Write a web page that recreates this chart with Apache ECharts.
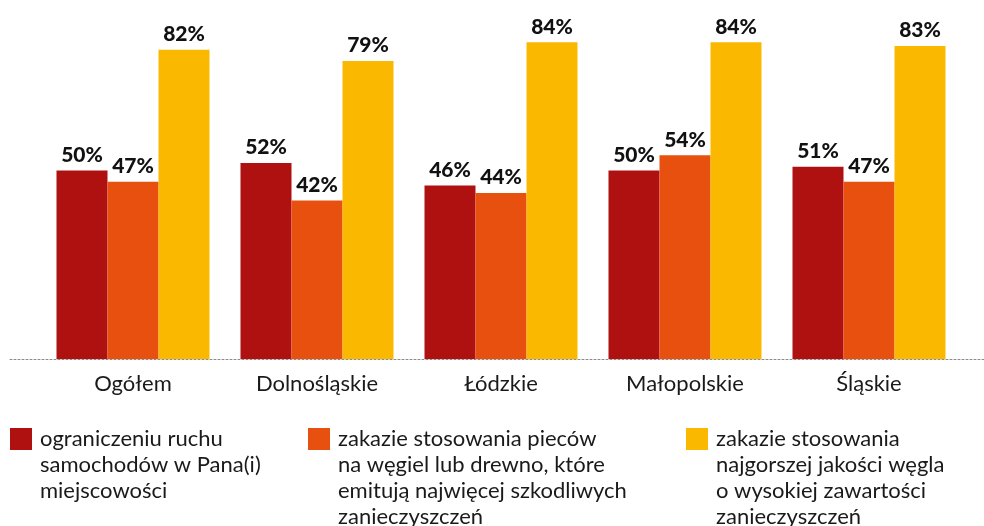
<!DOCTYPE html>
<html>
<head>
<meta charset="utf-8">
<script src="https://cdn.jsdelivr.net/npm/echarts@6/dist/echarts.min.js"></script>
<style>
html,body{margin:0;padding:0;background:#fff;}
#c{width:984px;height:526px;}
</style>
</head>
<body>
<div id="c"></div>
<script>
const categories = ['Ogółem', 'Dolnośląskie', 'Łódzkie', 'Małopolskie', 'Śląskie'];
const seriesNames = ['ruch', 'piece', 'wegiel'];
const legendTexts = [
  'ograniczeniu ruchu\nsamochodów w Pana(i)\nmiejscowości',
  'zakazie stosowania pieców\nna węgiel lub drewno, które\nemitują najwięcej szkodliwych\nzanieczyszczeń',
  'zakazie stosowania\nnajgorszej jakości węgla\no wysokiej zawartości\nzanieczyszczeń'
];
const valuesRuch = [50, 52, 46, 50, 51];
const valuesPiece = [47, 42, 44, 54, 47];
const valuesWegiel = [82, 79, 84, 84, 83];
const allValues = [valuesRuch, valuesPiece, valuesWegiel];
const colors = ['#AE1110', '#E8500F', '#FBB800'];

const FONT = 'Lato';
const LINE_H = 26;
const legendLeft = [10, 308, 686];
const iconTop = 428;
const iconSize = 22;

const legends = legendTexts.map((t, i) => {
  const n = t.split('\n').length;
  const padded = '\n'.repeat(n - 1) + t;
  const blockH = (2 * n - 1) * LINE_H;
  const top = iconTop + iconSize / 2 - blockH / 2;
  return {
    data: [seriesNames[i]],
    left: legendLeft[i],
    top: top,
    padding: 0,
    itemWidth: iconSize,
    itemHeight: iconSize,
    icon: 'rect',
    selectedMode: false,
    formatter: () => padded,
    textStyle: {
      fontFamily: FONT, fontSize: 22, color: '#1a1a1a',
      lineHeight: LINE_H, padding: [0, 0, 0, 3]
    }
  };
});

const chart = echarts.init(document.getElementById('c'), null, {renderer: 'canvas'});
chart.setOption({
  animation: false,
  backgroundColor: '#fff',
  legend: legends,
  grid: [
    {left: 41, right: 23, top: 0, bottom: 167},
    {left: 10, right: 0, top: 0, bottom: 167}
  ],
  xAxis: [
    {
      type: 'category', data: categories, gridIndex: 0,
      axisLine: {show: false}, axisTick: {show: false},
      axisLabel: {fontFamily: FONT, fontSize: 22, color: '#1a1a1a', margin: 14}
    },
    {
      type: 'value', gridIndex: 1, min: 0, max: 1,
      axisLine: {show: true, lineStyle: {color: '#8a8a8a', type: [2, 2], width: 1}},
      axisTick: {show: false}, axisLabel: {show: false}, splitLine: {show: false}
    }
  ],
  yAxis: [
    {type: 'value', gridIndex: 0, min: 0, max: 95.2, show: false, splitLine: {show: false}},
    {type: 'value', gridIndex: 1, min: 0, max: 1, show: false, splitLine: {show: false}}
  ],
  series: seriesNames.map((nm, i) => ({
    name: nm, type: 'bar', xAxisIndex: 0, yAxisIndex: 0,
    data: allValues[i], barWidth: 51, barGap: '0%',
    itemStyle: {color: colors[i]},
    label: {
      show: true, position: 'top', distance: 5,
      formatter: '{c}%', fontFamily: FONT, fontWeight: 900, fontSize: 21, color: '#111'
    }
  }))
});
</script>
</body>
</html>
